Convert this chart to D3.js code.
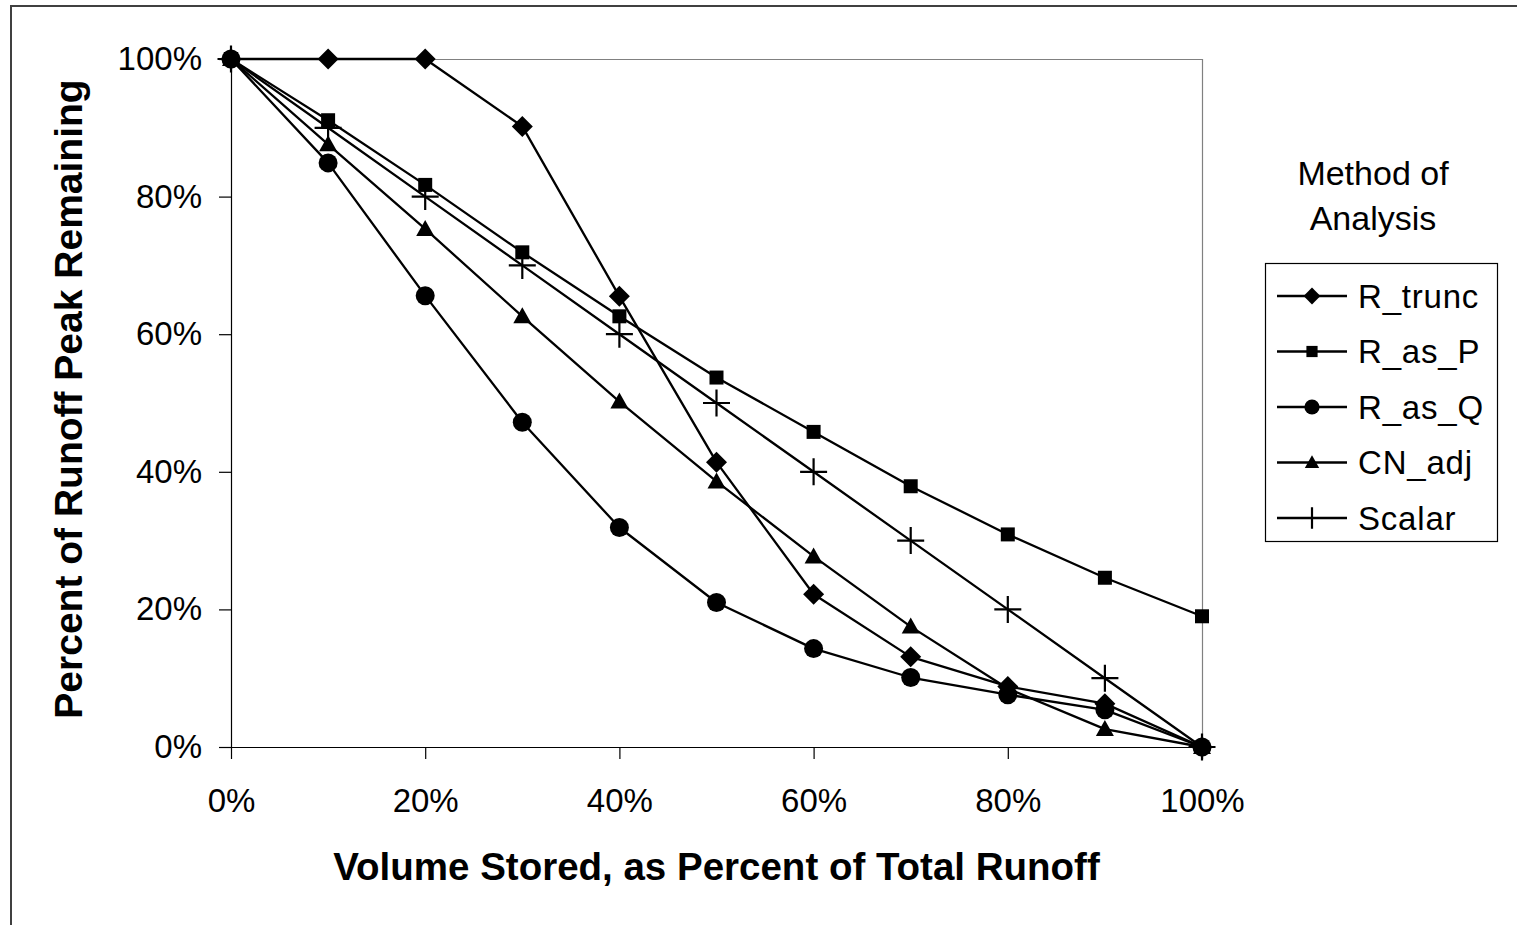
<!DOCTYPE html>
<html>
<head>
<meta charset="utf-8">
<script src="https://cdn.jsdelivr.net/npm/d3@7"></script>
<style>
  html, body { margin: 0; padding: 0; background: #fff; }
  svg { display: block; font-family: "Liberation Sans", Arial, sans-serif; }
</style>
</head>
<body>
<svg id="chart" width="1517" height="925"></svg>
<script>
// Volume stored (% of total runoff) on the x axis
const storedPct = [0, 10, 20, 30, 40, 50, 60, 70, 80, 90, 100];

// Percent of runoff peak remaining, one array per method
const rTrunc = [100, 100, 100, 90.2, 65.5, 41.4, 22.2, 13.1, 8.8, 6.3, 0];
const rAsP   = [100, 91.1, 81.7, 71.9, 62.6, 53.7, 45.8, 37.9, 30.9, 24.6, 19.0];
const rAsQ   = [100, 84.9, 65.6, 47.2, 31.9, 21.0, 14.3, 10.1, 7.6, 5.4, 0];
const cnAdj  = [100, 87.6, 75.3, 62.6, 50.2, 38.6, 27.7, 17.5, 8.5, 2.6, 0];
const scalar = [100, 90, 80, 70, 60, 50, 40, 30, 20, 10, 0];

const seriesNames = ["R_trunc", "R_as_P", "R_as_Q", "CN_adj", "Scalar"];
const seriesValues = [rTrunc, rAsP, rAsQ, cnAdj, scalar];
const seriesMarkers = ["diamond", "square", "circle", "triangle", "plus"];

const xTicks = [0, 20, 40, 60, 80, 100];
const yTicks = [0, 20, 40, 60, 80, 100];

const xTitle = "Volume Stored, as Percent of Total Runoff";
const yTitle = "Percent of Runoff Peak Remaining";
const legendTitle = ["Method of", "Analysis"];

const svg = d3.select("#chart");

// outer chart frame (runs off the right and bottom edges)
svg.append("rect")
  .attr("x", 11).attr("y", 6)
  .attr("width", 1540).attr("height", 960)
  .attr("fill", "#fff").attr("stroke", "#404040").attr("stroke-width", 2);

const plot = { left: 231, right: 1202, top: 59, bottom: 747 };

const x = d3.scaleLinear().domain([0, 100]).range([plot.left, plot.right]);
const y = d3.scaleLinear().domain([0, 100]).range([plot.bottom, plot.top]);

// plot area border (top and right sides)
svg.append("path")
  .attr("d", `M${plot.left},${plot.top + 0.5}H${plot.right + 0.5}V${plot.bottom}`)
  .attr("fill", "none").attr("stroke", "#808080").attr("stroke-width", 1.2);

const pctFmt = d => d + "%";

// y axis
const yAxis = svg.append("g")
  .attr("transform", `translate(${plot.left},0)`)
  .call(d3.axisLeft(y).tickValues(yTicks).tickFormat(pctFmt)
    .tickSize(12).tickSizeOuter(0).tickPadding(17));
yAxis.selectAll("text").attr("font-size", 33).attr("fill", "#000")
  .attr("font-family", "'Liberation Sans', Arial, sans-serif");
yAxis.selectAll("line, path").attr("stroke", "#000").attr("stroke-width", 1.2);

// x axis
const xAxis = svg.append("g")
  .attr("transform", `translate(0,${plot.bottom})`)
  .call(d3.axisBottom(x).tickValues(xTicks).tickFormat(pctFmt)
    .tickSize(12).tickSizeOuter(0).tickPadding(30));
xAxis.selectAll("text").attr("font-size", 33).attr("fill", "#000")
  .attr("font-family", "'Liberation Sans', Arial, sans-serif");
xAxis.selectAll("line, path").attr("stroke", "#000").attr("stroke-width", 1.2);

// axis titles
svg.append("text")
  .attr("x", (plot.left + plot.right) / 2).attr("y", 880)
  .attr("text-anchor", "middle")
  .attr("font-size", 38.5).attr("font-weight", "bold")
  .text(xTitle);

svg.append("text")
  .attr("transform", `translate(82,${(plot.top + plot.bottom) / 2 - 4}) rotate(-90)`)
  .attr("text-anchor", "middle")
  .attr("font-size", 39).attr("font-weight", "bold")
  .text(yTitle);

// marker shapes
function markerPath(kind, scale) {
  const s = scale || 1;
  switch (kind) {
    case "diamond": {
      const r = 10.5 * s;
      return `M0,${-r}L${r},0L0,${r}L${-r},0Z`;
    }
    case "square": {
      const h = 7 * s;
      return `M${-h},${-h}H${h}V${h}H${-h}Z`;
    }
    case "circle":
      return d3.symbol(d3.symbolCircle, Math.PI * Math.pow(9.5 * s, 2))();
    case "triangle": {
      const w = 9 * s, hTop = 9 * s, hBot = 7 * s;
      return `M0,${-hTop}L${w},${hBot}L${-w},${hBot}Z`;
    }
    case "plus": {
      const a = 13.5 * s;
      return `M${-a},0H${a}M0,${-a}V${a}`;
    }
  }
}

function drawMarker(g, kind, scale) {
  const p = g.append("path").attr("d", markerPath(kind, scale));
  if (kind === "plus") {
    p.attr("fill", "none").attr("stroke", "#000").attr("stroke-width", 2.2);
  } else {
    p.attr("fill", "#000").attr("stroke", "none");
  }
}

const line = d3.line()
  .x((d, i) => x(storedPct[i]))
  .y(d => y(d));

// series lines and markers
seriesValues.forEach((vals, si) => {
  const g = svg.append("g").attr("class", "series");
  g.append("path")
    .attr("d", line(vals))
    .attr("fill", "none").attr("stroke", "#000").attr("stroke-width", 2.3)
    .attr("stroke-linejoin", "round");
  vals.forEach((v, i) => {
    const mg = g.append("g")
      .attr("transform", `translate(${x(storedPct[i])},${y(v)})`);
    drawMarker(mg, seriesMarkers[si], 1);
  });
});

// legend title
legendTitle.forEach((t, i) => {
  svg.append("text")
    .attr("x", 1373).attr("y", 185 + i * 45)
    .attr("text-anchor", "middle")
    .attr("font-size", 34)
    .text(t);
});

// legend box
svg.append("rect")
  .attr("x", 1265.5).attr("y", 263.5)
  .attr("width", 232).attr("height", 278)
  .attr("fill", "#fff").attr("stroke", "#000").attr("stroke-width", 1.2);

seriesNames.forEach((name, i) => {
  const cy = 296 + i * 55.5;
  const g = svg.append("g");
  g.append("line")
    .attr("x1", 1277).attr("x2", 1347)
    .attr("y1", cy).attr("y2", cy)
    .attr("stroke", "#000").attr("stroke-width", 2.3);
  const mg = g.append("g").attr("transform", `translate(1312,${cy})`);
  drawMarker(mg, seriesMarkers[i], 0.8);
  g.append("text")
    .attr("x", 1358).attr("y", cy)
    .attr("dy", "0.36em")
    .attr("font-size", 33)
    .attr("letter-spacing", 0.8)
    .text(name);
});
</script>
</body>
</html>
